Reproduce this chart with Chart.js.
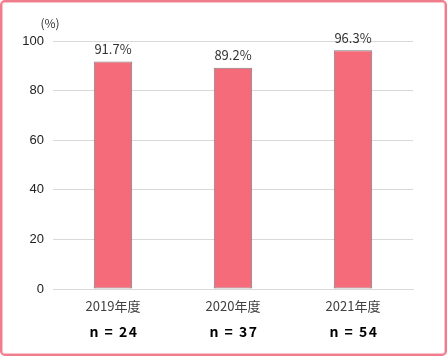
<!DOCTYPE html>
<html><head><meta charset="utf-8">
<script src="https://cdn.jsdelivr.net/npm/chart.js@4/dist/chart.umd.min.js"></script>
<style>
html,body{margin:0;padding:0;background:#fff;}
#wrap{position:relative;width:447px;height:356px;box-sizing:border-box;border:2px solid #f07d8c;border-radius:5px;box-shadow:inset 0 0 0 1px #f9c3cb;}
canvas{display:block;}
</style></head>
<body>
<div id="wrap"><canvas id="c" width="443" height="352"></canvas></div>
<script>
const categories = ['2019年度', '2020年度', '2021年度'];
const values = [91.7, 89.2, 96.3];
const valueLabels = ['91.7%', '89.2%', '96.3%'];
const nLabels = ['n = 24', 'n = 37', 'n = 54'];
const yTicks = [0, 20, 40, 60, 80, 100];

const FONT = "'Noto Sans CJK JP', 'DejaVu Sans', sans-serif";

const extraText = {
  id: 'extraText',
  afterDatasetsDraw(chart) {
    const ctx = chart.ctx;
    const meta = chart.getDatasetMeta(0);
    const xs = chart.scales.x;
    const area = chart.chartArea;
    ctx.save();
    ctx.fillStyle = '#333';
    ctx.font = '13px ' + FONT;
    ctx.textAlign = 'center';
    ctx.textBaseline = 'bottom';
    meta.data.forEach((bar, i) => {
      ctx.fillText(valueLabels[i], bar.x, bar.y - 6);
    });
    ctx.fillStyle = '#000';
    ctx.font = 'bold 14px ' + FONT;
    ctx.letterSpacing = '1.5px';
    ctx.textBaseline = 'middle';
    nLabels.forEach((t, i) => {
      ctx.fillText(t, xs.getPixelForValue(i) + 1, area.bottom + 43);
    });
    ctx.letterSpacing = '0px';
    ctx.fillStyle = '#333';
    ctx.font = '12px ' + FONT;
    ctx.fillText('(%)', area.left - 3, area.top - 18);
    ctx.restore();
  }
};

new Chart(document.getElementById('c'), {
  type: 'bar',
  data: {
    labels: categories,
    datasets: [{
      data: values,
      backgroundColor: '#f56b7a',
      borderColor: '#7f7f7f',
      borderWidth: 1,
      borderSkipped: false,
      barPercentage: 0.32,
      categoryPercentage: 1
    }]
  },
  options: {
    responsive: false,
    animation: false,
    layout: { padding: { left: 0, right: 32, top: 39, bottom: 0 } },
    plugins: { legend: { display: false }, tooltip: { enabled: false } },
    scales: {
      x: {
        grid: { display: false, drawTicks: false },
        border: { color: '#d9d9d9', width: 1 },
        ticks: { color: '#404040', font: { family: FONT, size: 13 }, padding: 9 },
        afterFit(s) { s.height = 65; }
      },
      y: {
        min: 0, max: 100,
        afterBuildTicks(s) { s.ticks = yTicks.map(v => ({ value: v })); },
        grid: { color: '#d9d9d9', drawTicks: false },
        border: { display: false },
        ticks: { color: '#222', font: { family: 'Liberation Sans, Arial, sans-serif', size: 13 }, padding: 9 },
        afterFit(s) { s.width = 51; }
      }
    }
  },
  plugins: [extraText]
});
</script>
</body></html>
